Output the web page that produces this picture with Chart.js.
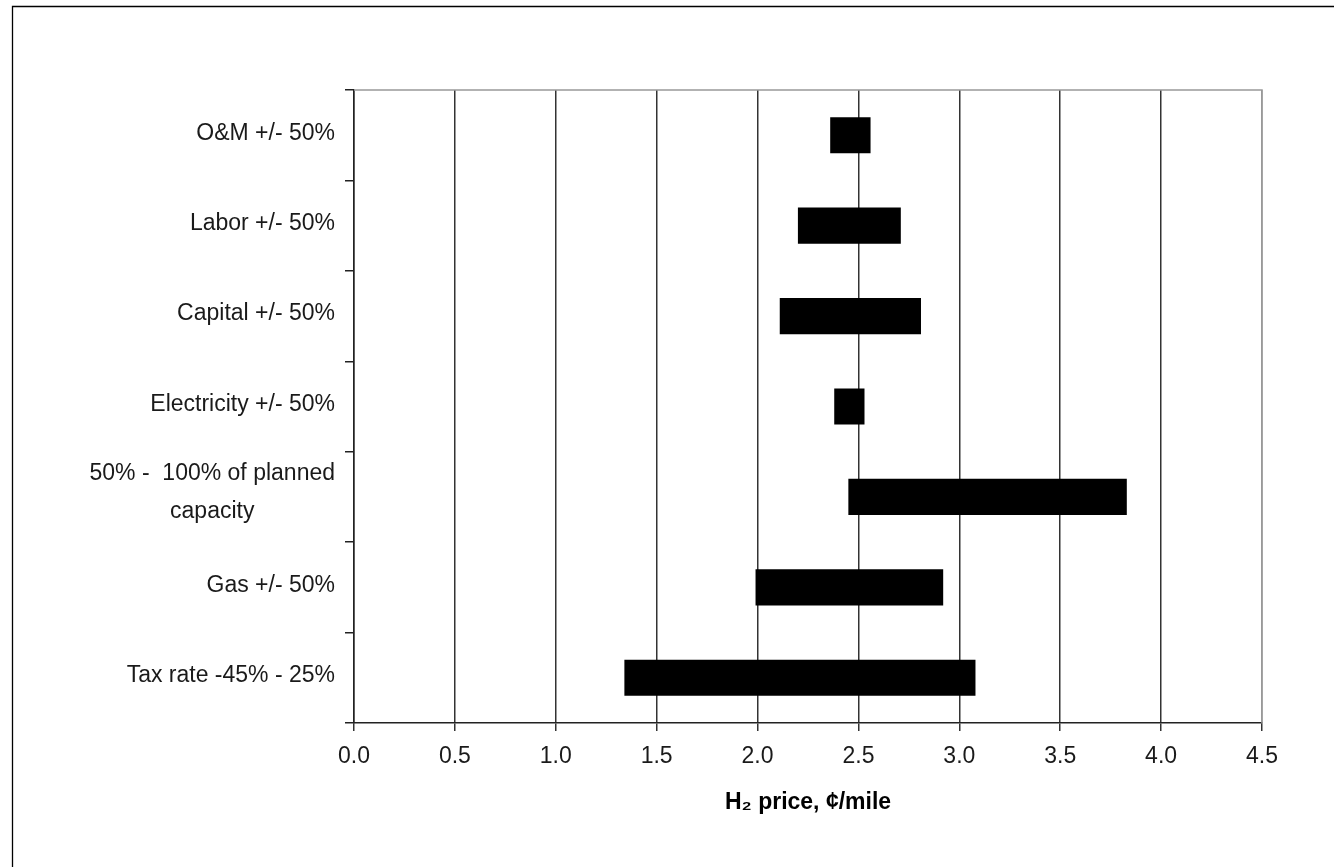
<!DOCTYPE html>
<html>
<head>
<meta charset="utf-8">
<title>H2 price sensitivity</title>
<script src="https://cdn.jsdelivr.net/npm/chart.js@4.4.1/dist/chart.umd.min.js"></script>
<style>
  html, body { margin: 0; padding: 0; background: #fff; }
  canvas { display: block; }
</style>
</head>
<body>
<canvas id="chart" width="1334" height="867"></canvas>
<script>
// sensitivity cases, top to bottom
const categories = [
  'O&M +/- 50%',
  'Labor +/- 50%',
  'Capital +/- 50%',
  'Electricity +/- 50%',
  ['50% -  100% of planned', 'capacity'],
  'Gas +/- 50%',
  'Tax rate -45% - 25%',
];
const lowValues  = [2.36, 2.20, 2.11, 2.38, 2.45, 1.99, 1.34];
const highValues = [2.56, 2.71, 2.81, 2.53, 3.83, 2.92, 3.08];
const xTicks = [0, 0.5, 1.0, 1.5, 2.0, 2.5, 3.0, 3.5, 4.0, 4.5];
const xTitle = 'H\u2082 price, \u00a2/mile';

const FONT = '"Liberation Sans", Arial, sans-serif';

// frame, top/right plot border and the category labels (right aligned, wrapped lines centred)
const decorations = {
  id: 'decorations',
  afterDraw(chart) {
    const { ctx, chartArea: a } = chart;
    const yScale = chart.scales.y;
    ctx.save();

    ctx.strokeStyle = '#000';
    ctx.lineWidth = 1.3;
    ctx.beginPath();
    ctx.moveTo(12.5, 900);
    ctx.lineTo(12.5, 6.5);
    ctx.lineTo(1400, 6.5);
    ctx.stroke();

    ctx.strokeStyle = '#999';
    ctx.lineWidth = 1.5;
    ctx.beginPath();
    ctx.moveTo(a.left, a.top);
    ctx.lineTo(a.right, a.top);
    ctx.lineTo(a.right, a.bottom);
    ctx.stroke();

    ctx.font = '23px ' + FONT;
    ctx.fillStyle = '#1a1a1a';
    ctx.textBaseline = 'middle';
    const rightX = 335;
    categories.forEach((label, i) => {
      const yc = yScale.getPixelForValue(i);
      if (Array.isArray(label)) {
        const w = Math.max(...label.map(l => ctx.measureText(l).width));
        const lh = 38;
        const y0 = yc - 4 - (label.length - 1) * lh / 2;
        ctx.textAlign = 'center';
        label.forEach((l, k) => ctx.fillText(l, rightX - w / 2, y0 + k * lh));
      } else {
        ctx.textAlign = 'right';
        ctx.fillText(label, rightX, yc - 2);
      }
    });
    ctx.restore();
  }
};

new Chart(document.getElementById('chart'), {
  type: 'bar',
  data: {
    labels: categories,
    datasets: [{
      data: lowValues.map((lo, i) => [lo, highValues[i]]),
      backgroundColor: '#000',
      borderColor: '#000',
      borderWidth: 0,
      borderSkipped: false,
      categoryPercentage: 1.0,
      barPercentage: 0.4,
    }]
  },
  options: {
    indexAxis: 'y',
    responsive: false,
    animation: false,
    layout: { padding: { top: 90, right: 72, left: 0, bottom: 0 } },
    plugins: { legend: { display: false }, tooltip: { enabled: false } },
    scales: {
      x: {
        type: 'linear',
        min: 0,
        max: 4.5,
        afterBuildTicks: scale => { scale.ticks = xTicks.map(v => ({ value: v })); },
        afterFit: scale => { scale.height = 144; },
        ticks: {
          color: '#1a1a1a',
          font: { family: FONT, size: 23 },
          padding: 12,
          callback: v => Number(v).toFixed(1),
        },
        grid: {
          color: ctx => (ctx.tick && ctx.tick.value === 4.5 ? '#999' : '#333'),
          lineWidth: 1.5,
          tickLength: 8,
          tickColor: '#333',
        },
        border: { color: '#222', width: 1.5 },
        title: {
          display: true,
          text: xTitle,
          color: '#000',
          font: { family: FONT, size: 23, weight: 'bold' },
          padding: { top: 0, bottom: 51 },
        },
      },
      y: {
        type: 'category',
        afterFit: scale => { scale.width = 354; },
        ticks: { display: false },
        grid: {
          offset: true,
          drawOnChartArea: false,
          tickLength: 9,
          color: '#222',
          lineWidth: 1.5,
        },
        border: { color: '#222', width: 1.5 },
      },
    },
  },
  plugins: [decorations],
});
</script>
</body>
</html>
